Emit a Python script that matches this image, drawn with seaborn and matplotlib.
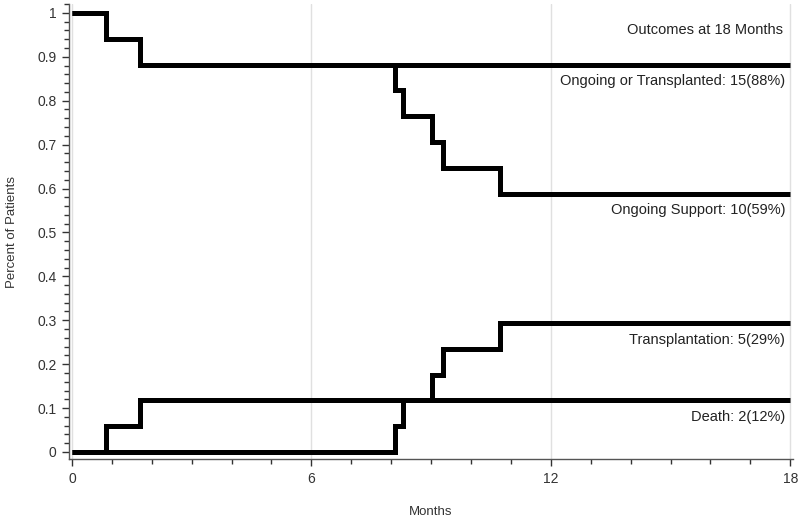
import pandas as pd
import seaborn as sns
import matplotlib.pyplot as plt
from matplotlib.ticker import MultipleLocator

# step curves (months, fraction of patients)
ongoing_transplanted_x = [0, 0.85, 1.7, 18]
ongoing_transplanted_y = [1.0, 0.941, 0.882, 0.882]

ongoing_support_x = [0, 0.85, 1.7, 8.1, 8.3, 9.02, 9.29, 10.73, 18]
ongoing_support_y = [1.0, 0.941, 0.882, 0.824, 0.765, 0.706, 0.647, 0.588, 0.588]

transplant_x = [0, 8.1, 8.3, 9.02, 9.29, 10.73, 18]
transplant_y = [0.0, 0.059, 0.118, 0.176, 0.235, 0.294, 0.294]

death_x = [0, 0.85, 1.7, 18]
death_y = [0.0, 0.059, 0.118, 0.118]

series_names = ['Ongoing or Transplanted: 15(88%)', 'Ongoing Support: 10(59%)',
                'Transplantation: 5(29%)', 'Death: 2(12%)']
header_text = 'Outcomes at 18 Months'

frames = []
for name, xs, ys in zip(series_names,
                        [ongoing_transplanted_x, ongoing_support_x, transplant_x, death_x],
                        [ongoing_transplanted_y, ongoing_support_y, transplant_y, death_y]):
    frames.append(pd.DataFrame({'month': xs, 'value': ys, 'series': name}))
df = pd.concat(frames, ignore_index=True)

sns.set_style('white')
plt.rcParams['font.family'] = ['Liberation Sans', 'DejaVu Sans']

fig = plt.figure(figsize=(8, 5.19), dpi=100)
ax = fig.add_axes([0.08625, 0.1156, 0.9050, 0.8765])

# light grid at the major month ticks, drawn first so it sits underneath
for m in [0, 6, 12, 18]:
    ax.axvline(m, color='#e0e0e0', lw=1, zorder=0)

sns.lineplot(data=df, x='month', y='value', hue='series', units='series',
             estimator=None, sort=False, drawstyle='steps-post',
             palette={n: 'black' for n in series_names}, legend=False,
             linewidth=3.6, solid_joinstyle='miter', solid_capstyle='butt', ax=ax)

ax.set_xlim(-0.075, 18.07)
ax.set_ylim(-0.016, 1.02)
ax.xaxis.set_major_locator(MultipleLocator(6))
ax.xaxis.set_minor_locator(MultipleLocator(1))
ax.yaxis.set_major_locator(MultipleLocator(0.1))
ax.yaxis.set_minor_locator(MultipleLocator(0.02))
ax.set_xticks([0, 6, 12, 18])
ax.set_xticklabels(['0', '6', '12', '18'])
ax.set_yticks([i / 10 for i in range(11)])
ax.set_yticklabels(['0', '0.1', '0.2', '0.3', '0.4', '0.5', '0.6', '0.7', '0.8', '0.9', '1'])

ax.tick_params(axis='both', which='major', direction='out', length=5, width=1,
               color='#333333', labelsize=10, labelcolor='#333333', pad=4,
               bottom=True, left=True)
ax.tick_params(axis='both', which='minor', direction='out', length=3.5, width=1,
               color='#333333', bottom=True, left=True)

for side in ['top', 'right']:
    ax.spines[side].set_visible(False)
for side in ['left', 'bottom']:
    ax.spines[side].set_color('#555555')
    ax.spines[side].set_linewidth(1)

ax.set_xlabel('Months', fontsize=9.5, color='#333333', labelpad=15)
ax.set_ylabel('Percent of Patients', fontsize=9.5, color='#333333', labelpad=14)

# labels sit just under the end of each curve
end_values = [ongoing_transplanted_y[-1], ongoing_support_y[-1], transplant_y[-1], death_y[-1]]
for name, v in zip(series_names, end_values):
    ax.text(17.87, v - 0.038, name, ha='right', va='center', fontsize=10.5, color='#222222')
ax.text(17.82, 0.961, header_text, ha='right', va='center', fontsize=10.5, color='#222222')

fig.savefig('out.png', dpi=100)
